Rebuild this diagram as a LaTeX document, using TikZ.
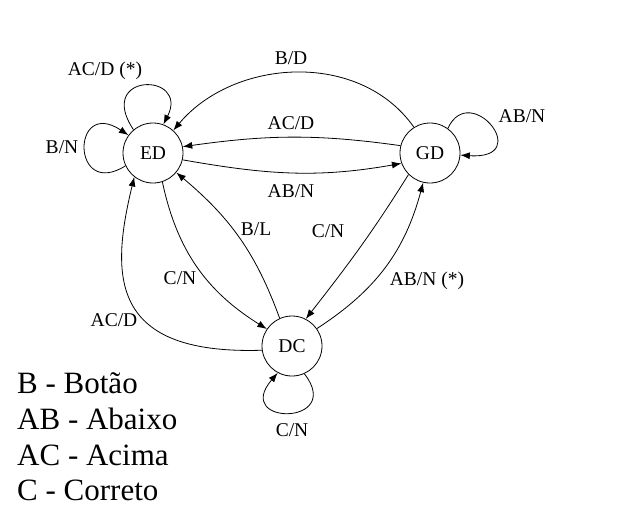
\documentclass[tikz,border=0pt]{standalone}
\usepackage{fontspec}
\setmainfont{Liberation Serif}
\usetikzlibrary{arrows.meta}
\tikzset{
  state/.style={draw, circle, minimum size=60pt, inner sep=0pt, line width=0.8pt, font=\fontsize{19.5}{23}\selectfont},
  lbl/.style={font=\fontsize{19.5}{23}\selectfont, inner sep=0pt},
  legend/.style={font=\fontsize{31}{36}\selectfont, inner sep=0pt, anchor=base west},
  edge/.style={draw, line width=0.8pt, -{Latex[length=9.5pt,width=7pt]}}
}
\begin{document}
\begin{tikzpicture}[x=1pt,y=-1pt]
\path[use as bounding box] (0,0) rectangle (618,528);
\node[state] (ED) at (153,153) {ED};
\node[state] (GD) at (430,153) {GD};
\node[state] (DC) at (292,346) {DC};
% edges between states
\path[edge] (GD.122) to[out=125,in=50] (ED.48);
\path[edge] (GD.166) to[out=172,in=8] (ED.12);
\path[edge] (ED.-13) to[out=-10,in=-170] (GD.-160);
\path[edge] (ED.-72) to[out=-78,in=148] (DC.146);
\path[edge] (DC.114) to[out=110,in=-40] (ED.-40);
\path[edge] (GD.-135) to[out=-122,in=52] (DC.63);
\path[edge] (DC.35) to[out=33,in=-105] (GD.-103);
\path[edge] (DC.188) .. controls (110,355) and (110,277) .. (ED.-128);
% loops
\path[edge] (ED.130) .. controls (95,72) and (190,72) .. (ED.70);
\path[edge] (ED.205) .. controls (71,200) and (71,97) .. (ED.144);
\path[edge] (GD.54) .. controls (470,80) and (535,160) .. (GD.-4);
\path[edge] (DC.-66) .. controls (345,426) and (232,426) .. (DC.-118);
% labels
\node[lbl] (l1) at (105,71) {AC/D (*)};
\node[lbl] (l2) at (62,147) {B/N};
\node[lbl] (l3) at (291,58) {B/D};
\node[lbl] (l4) at (291,123) {AC/D};
\node[lbl] (l5) at (291,191) {AB/N};
\node[lbl] (l6) at (522,116) {AB/N};
\node[lbl] (l7) at (256,229) {B/L};
\node[lbl] (l8) at (328,231) {C/N};
\node[lbl] (l9) at (180,278) {C/N};
\node[lbl] (l10) at (427,281) {AB/N (*)};
\node[lbl] (l11) at (114,320) {AC/D};
\node[lbl] (l12) at (292,430) {C/N};
% legend
\node[legend] (k1) at (17,393) {B - Botão};
\node[legend] (k2) at (17,429) {AB - Abaixo};
\node[legend] (k3) at (17,465) {AC - Acima};
\node[legend] (k4) at (17,500) {C - Correto};
\end{tikzpicture}
\end{document}
